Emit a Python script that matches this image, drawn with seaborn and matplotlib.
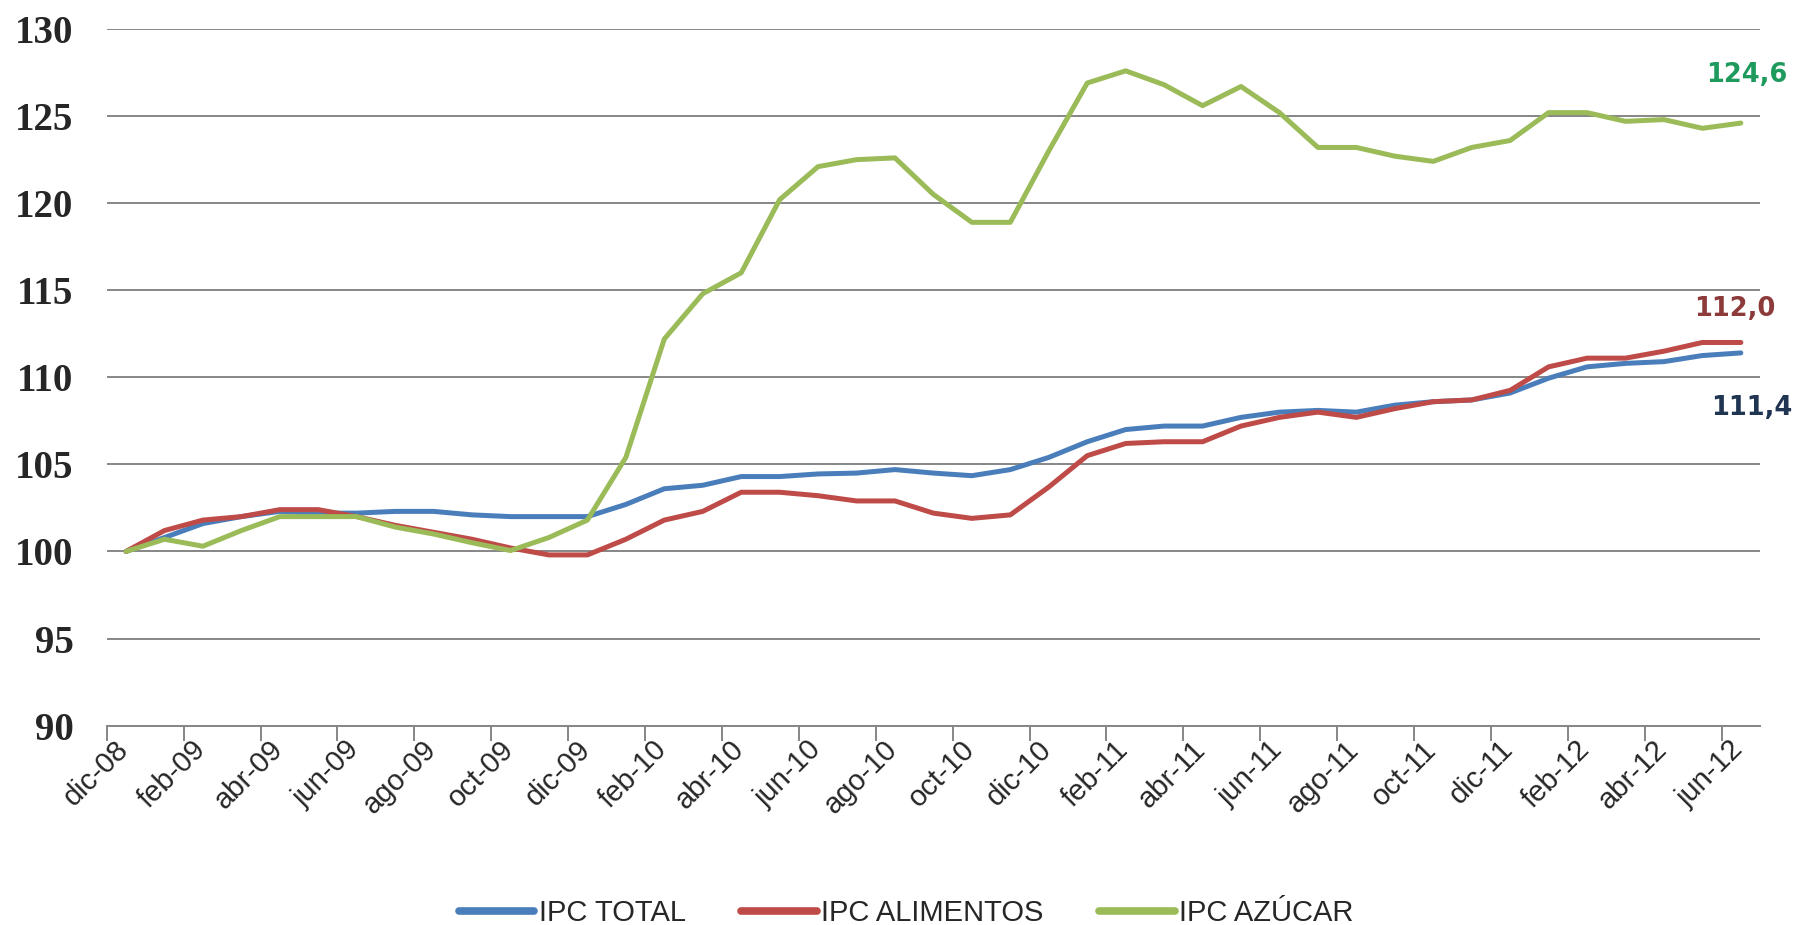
import numpy as np
import pandas as pd
import matplotlib
matplotlib.use("Agg")
import matplotlib.pyplot as plt
import seaborn as sns

sns.set_theme(style="white")

# datos
meses = ["dic-08", "ene-09", "feb-09", "mar-09", "abr-09", "may-09", "jun-09", "jul-09", "ago-09",
         "sep-09", "oct-09", "nov-09", "dic-09", "ene-10", "feb-10", "mar-10", "abr-10", "may-10",
         "jun-10", "jul-10", "ago-10", "sep-10", "oct-10", "nov-10", "dic-10", "ene-11", "feb-11",
         "mar-11", "abr-11", "may-11", "jun-11", "jul-11", "ago-11", "sep-11", "oct-11", "nov-11",
         "dic-11", "ene-12", "feb-12", "mar-12", "abr-12", "may-12", "jun-12"]

ipc_total = [100.0, 100.8, 101.6, 102.0, 102.3, 102.2, 102.2, 102.3, 102.3, 102.1, 102.0, 102.0,
             102.0, 102.7, 103.6, 103.8, 104.3, 104.3, 104.45, 104.5, 104.7, 104.5, 104.35, 104.7,
             105.4, 106.3, 107.0, 107.2, 107.2, 107.7, 108.0, 108.1, 108.0, 108.4, 108.6, 108.7,
             109.1, 109.95, 110.6, 110.8, 110.9, 111.25, 111.4]

ipc_alimentos = [100.0, 101.2, 101.8, 102.0, 102.4, 102.4, 102.0, 101.5, 101.1, 100.7, 100.2, 99.8,
                 99.8, 100.7, 101.8, 102.3, 103.4, 103.4, 103.2, 102.9, 102.9, 102.2, 101.9, 102.1,
                 103.7, 105.5, 106.2, 106.3, 106.3, 107.2, 107.7, 108.0, 107.7, 108.2, 108.6, 108.7,
                 109.25, 110.6, 111.1, 111.1, 111.5, 112.0, 112.0]

ipc_azucar = [100.0, 100.7, 100.3, 101.2, 102.0, 102.0, 102.0, 101.4, 101.0, 100.5, 100.05, 100.8,
              101.8, 105.4, 112.2, 114.8, 116.0, 120.2, 122.1, 122.5, 122.6, 120.5, 118.9, 118.9,
              123.0, 126.9, 127.6, 126.8, 125.6, 126.7, 125.2, 123.2, 123.2, 122.7, 122.4, 123.2,
              123.6, 125.2, 125.2, 124.7, 124.8, 124.3, 124.6]

series = ["IPC TOTAL", "IPC ALIMENTOS", "IPC AZÚCAR"]
colores = ["#4a7ebb", "#be4b48", "#9bbb59"]

etiquetas_fin = ["111,4", "112,0", "124,6"]
colores_etiq = ["#1f3552", "#8c3a3a", "#1e9a5c"]
pos_etiq = [(42.29, 108.24), (41.85, 113.92), (42.16, 127.36)]

df = pd.DataFrame({
    "pos": list(range(len(meses))) * 3,
    "valor": ipc_total + ipc_alimentos + ipc_azucar,
    "serie": [s for s in series for _ in meses],
})

fig = plt.figure(figsize=(17.98, 9.25), dpi=100)
ax = fig.add_axes([0.0594, 0.2156, 0.9195, 0.753])

sns.lineplot(data=df, x="pos", y="valor", hue="serie", hue_order=series,
             palette=colores, linewidth=3.6, ax=ax, legend=False)

ax.set_xlim(-0.5, len(meses) - 0.5)
ax.set_ylim(90, 130)
ax.set_yticks(np.arange(90, 131, 5))
ax.yaxis.grid(True, color="#868686", linewidth=1.4)
ax.set_axisbelow(True)

# etiquetas cada 2 meses (algo a la izquierda del centro), marcas en los limites de categoria
ax.set_xticks(np.arange(0, len(meses), 2) - 0.3)
ax.set_xticklabels(meses[::2], rotation=45, ha="right", va="top", rotation_mode="anchor",
                   fontsize=21, family="Liberation Sans")
ax.set_xticks(np.arange(-0.5, len(meses) - 1, 2), minor=True)
ax.tick_params(axis="x", which="major", length=0, pad=7)
ax.tick_params(axis="x", which="minor", length=11, width=1.4, color="#868686", direction="out", bottom=True)
ax.tick_params(axis="y", length=0, pad=24)
for lab in ax.get_yticklabels():
    lab.set_family("Liberation Serif")
    lab.set_fontweight("bold")
    lab.set_fontsize(28)

for s in ["top", "right", "left"]:
    ax.spines[s].set_visible(False)
ax.spines["bottom"].set_color("#868686")
ax.spines["bottom"].set_linewidth(1.4)
ax.set_xlabel("")
ax.set_ylabel("")

for txt, col, (px, py) in zip(etiquetas_fin, colores_etiq, pos_etiq):
    ax.text(px, py, txt, color=col, fontsize=18.5, fontweight="bold", family="DejaVu Sans",
            ha="center", va="center", clip_on=False)

handles = [plt.Line2D([], [], color=c, linewidth=5.5) for c in colores]
fig.legend(handles, series, loc="center", bbox_to_anchor=(0.504, 0.013), ncol=3, frameon=False,
           handlelength=2.6, handletextpad=0.15, columnspacing=1.9,
           prop={"family": "Liberation Sans", "size": 21})

fig.savefig("out.png", dpi=100)
